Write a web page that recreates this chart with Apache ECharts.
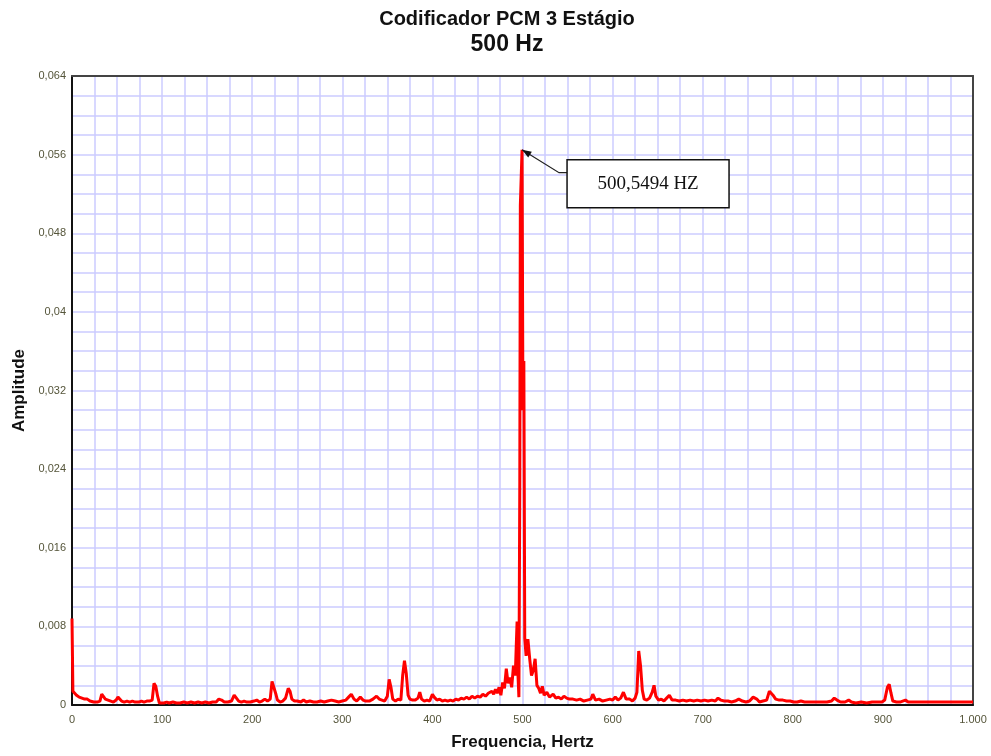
<!DOCTYPE html>
<html>
<head>
<meta charset="utf-8">
<script src="https://cdn.jsdelivr.net/npm/echarts@6/dist/echarts.min.js"></script>
<style>
    html, body { margin: 0; padding: 0; background: #fff; }
    #spectrum { width: 991px; height: 756px; }
</style>
</head>
<body>
<div id="spectrum"></div>
<script>
    // spectrum: frequency (Hz) and amplitude
    const freqs = [
        0, 1, 3, 5, 8, 11, 14, 17, 20, 24, 28, 31, 33, 35, 37, 40, 43, 46, 49, 51, 53, 55, 58, 61, 64, 67, 70, 74, 77, 80,
        83, 86, 89, 91, 93, 95, 97, 99, 102, 105, 108, 112, 116, 120, 124, 128, 132, 136, 140, 144, 148, 152, 156, 160,
        163, 166, 169, 173, 177, 180, 182, 185, 188, 191, 194, 198, 202, 205, 208, 211, 214, 217, 220, 222, 224, 226,
        228, 231, 234, 237, 240, 242, 244, 247, 250, 254, 257, 260, 264, 268, 272, 276, 280, 284, 288, 292, 296, 300,
        304, 307, 310, 313, 316, 320, 323, 326, 330, 334, 338, 341, 344, 347, 350, 352, 354, 356, 359, 362, 365, 367,
        369, 371, 373, 375, 378, 381, 384, 386, 388, 391, 394, 397, 400, 402, 405, 408, 411, 414, 417, 420, 423, 426,
        429, 432, 435, 438, 441, 444, 447, 450, 453, 456, 459, 462, 464, 466, 468, 470, 472, 474, 476, 478, 480, 482,
        484, 486, 488, 490, 492, 493, 494, 495, 496, 497, 497.6, 499.5, 500.5, 501.5, 502.5, 504, 506, 508, 510, 512,
        514, 516, 518, 520, 522, 524, 527, 530, 534, 537, 540, 543, 546, 549, 552, 556, 560, 564, 568, 572, 576, 578,
        581, 585, 589, 593, 597, 600, 603, 606, 609, 612, 615, 619, 622, 625, 627, 629, 631, 633, 635, 638, 641, 644,
        646, 648, 651, 654, 657, 660, 663, 666, 670, 674, 678, 682, 686, 690, 694, 698, 702, 706, 710, 714, 717, 720,
        724, 728, 732, 736, 740, 744, 748, 752, 756, 758, 760, 763, 767, 771, 774, 776, 778, 781, 785, 789, 793, 797,
        801, 805, 809, 813, 818, 823, 828, 833, 838, 843, 846, 849, 853, 858, 862, 865, 870, 876, 882, 888, 894, 899,
        902, 905, 907, 909, 911, 915, 919, 922, 925, 928, 935, 945, 955, 965, 975, 985, 995, 1000
    ];
    const amps = [
        0.0088, 0.0014, 0.0015, 0.0010, 0.0008, 0.0007, 0.0006, 0.0006, 0.0004, 0.0003, 0.0003, 0.0004, 0.0011, 0.0010,
        0.0006, 0.0005, 0.0004, 0.0003, 0.0005, 0.0008, 0.0006, 0.0004, 0.0003, 0.0004, 0.0003, 0.0004, 0.0003, 0.0003,
        0.0004, 0.0003, 0.0004, 0.0004, 0.0005, 0.0022, 0.0019, 0.0009, 0.0002, 0.0004, 0.0002, 0.0003, 0.0002, 0.0003,
        0.0002, 0.0002, 0.0003, 0.0002, 0.0003, 0.0002, 0.0003, 0.0002, 0.0003, 0.0002, 0.0003, 0.0003, 0.0006, 0.0005,
        0.0003, 0.0003, 0.0004, 0.0010, 0.0008, 0.0004, 0.0003, 0.0004, 0.0003, 0.0003, 0.0004, 0.0005, 0.0003, 0.0004,
        0.0006, 0.0004, 0.0006, 0.0024, 0.0025, 0.0012, 0.0005, 0.0003, 0.0004, 0.0007, 0.0017, 0.0014, 0.0006, 0.0004,
        0.0004, 0.0003, 0.0005, 0.0003, 0.0004, 0.0003, 0.0003, 0.0004, 0.0003, 0.0004, 0.0005, 0.0004, 0.0003, 0.0004,
        0.0005, 0.0008, 0.0011, 0.0006, 0.0004, 0.0008, 0.0005, 0.0004, 0.0004, 0.0006, 0.0009, 0.0006, 0.0005, 0.0004,
        0.0009, 0.0026, 0.0018, 0.0006, 0.0004, 0.0006, 0.0005, 0.0030, 0.0045, 0.0032, 0.0010, 0.0006, 0.0005, 0.0005,
        0.0007, 0.0013, 0.0006, 0.0004, 0.0005, 0.0004, 0.0011, 0.0008, 0.0005, 0.0006, 0.0004, 0.0005, 0.0004, 0.0005,
        0.0004, 0.0006, 0.0005, 0.0007, 0.0006, 0.0008, 0.0006, 0.0009, 0.0007, 0.0009, 0.0008, 0.0011, 0.0009, 0.0012,
        0.0010, 0.0014, 0.0011, 0.0016, 0.0012, 0.0018, 0.0010, 0.0023, 0.0017, 0.0037, 0.0022, 0.0028, 0.0018, 0.0040,
        0.0030, 0.0058, 0.0085, 0.0030, 0.0008, 0.0228, 0.0508, 0.0565, 0.0300, 0.0350, 0.0068, 0.0050, 0.0067, 0.0047,
        0.0030, 0.0035, 0.0047, 0.0020, 0.0017, 0.0012, 0.0019, 0.0010, 0.0013, 0.0008, 0.0011, 0.0007, 0.0008, 0.0006,
        0.0009, 0.0007, 0.0006, 0.0006, 0.0005, 0.0006, 0.0004, 0.0005, 0.0006, 0.0011, 0.0005, 0.0006, 0.0004, 0.0005,
        0.0006, 0.0005, 0.0008, 0.0005, 0.0007, 0.0013, 0.0006, 0.0006, 0.0004, 0.0007, 0.0013, 0.0055, 0.0040, 0.0015,
        0.0006, 0.0005, 0.0007, 0.0013, 0.0020, 0.0009, 0.0005, 0.0006, 0.0004, 0.0007, 0.0010, 0.0005, 0.0005, 0.0004,
        0.0005, 0.0004, 0.0005, 0.0004, 0.0005, 0.0004, 0.0005, 0.0004, 0.0005, 0.0004, 0.0007, 0.0005, 0.0004, 0.0004,
        0.0003, 0.0004, 0.0006, 0.0004, 0.0003, 0.0004, 0.0008, 0.0010, 0.0006, 0.0003, 0.0004, 0.0005, 0.0014, 0.0016,
        0.0010, 0.0006, 0.0005, 0.0005, 0.0004, 0.0004, 0.0003, 0.0003, 0.0004, 0.0003, 0.0003, 0.0003, 0.0003, 0.0003,
        0.0003, 0.0004, 0.0007, 0.0005, 0.0003, 0.0003, 0.0005, 0.0003, 0.0002, 0.0003, 0.0002, 0.0003, 0.0003, 0.0003,
        0.0005, 0.0018, 0.0021, 0.0012, 0.0004, 0.0003, 0.0003, 0.0004, 0.0005, 0.0003, 0.0003, 0.0003, 0.0003, 0.0003,
        0.0003, 0.0003, 0.0003, 0.0003
    ];
    const peakFreq = 499.5;
    const peakAmp = 0.0565;
    const peakLabel = '500,5494 HZ';
    const titleLines = ['Codificador PCM 3 Estágio', '500 Hz'];

    const tickColor = '#55553a';
    const gridColor = '#ccccff';

    // plain frame axes for the top and right edges of the plot
    function frameAxis(pos, min, max) {
        return {
            type: 'value', position: pos, min: min, max: max,
            axisLine: { show: true, onZero: false, lineStyle: { color: '#444', width: 2 } },
            axisTick: { show: false }, axisLabel: { show: false }, splitLine: { show: false }
        };
    }

    let chart = echarts.init(document.getElementById('spectrum'));
    let option = {
        animation: false,
        grid: {
            left: 72,
            right: 18,
            top: 76,
            bottom: 50
        },
        xAxis: [{
            type: 'value',
            min: 0,
            max: 1000,
            interval: 100,
            name: 'Frequencia, Hertz',
            nameLocation: 'middle',
            nameGap: 29,
            nameTextStyle: { fontFamily: 'Liberation Sans', fontWeight: 'bold', fontSize: 17, color: '#111' },
            axisLine: { onZero: false, lineStyle: { color: '#111', width: 2 } },
            axisTick: { show: false },
            axisLabel: {
                margin: 9,
                fontFamily: 'Liberation Sans',
                fontSize: 11,
                color: tickColor,
                formatter: function (v) { return v === 1000 ? '1.000' : String(v); }
            },
            splitLine: { lineStyle: { color: gridColor, width: 1.5 } },
            minorTick: { show: false, splitNumber: 4 },
            minorSplitLine: { show: true, lineStyle: { color: gridColor, width: 1.5 } }
        }, frameAxis('top', 0, 1000)],
        yAxis: [{
            type: 'value',
            min: 0,
            max: 0.064,
            interval: 0.008,
            name: 'Amplitude',
            nameLocation: 'middle',
            nameGap: 42,
            nameTextStyle: { fontFamily: 'Liberation Sans', fontWeight: 'bold', fontSize: 17, color: '#111' },
            axisLine: { show: true, onZero: false, lineStyle: { color: '#111', width: 2 } },
            axisTick: { show: false },
            axisLabel: {
                margin: 6,
                fontFamily: 'Liberation Sans',
                fontSize: 11,
                color: tickColor,
                formatter: function (v) {
                    return v === 0 ? '0' : String(Number(v.toFixed(3))).replace('.', ',');
                }
            },
            splitLine: { lineStyle: { color: gridColor, width: 1.5 } },
            minorTick: { show: false, splitNumber: 4 },
            minorSplitLine: { show: true, lineStyle: { color: gridColor, width: 1.5 } }
        }, frameAxis('right', 0, 0.064)],
        series: [
            {
                name: 'Amplitude',
                type: 'line',
                showSymbol: false,
                lineStyle: { color: '#ff0000', width: 3 },
                data: freqs.map(function (f, i) { return [f, amps[i]]; })
            }
        ]
    };
    chart.setOption(option);

    // titles and the annotation box with arrow pointing to the peak
    let p = chart.convertToPixel({ xAxisIndex: 0, yAxisIndex: 0 }, [peakFreq, peakAmp]);
    let bx = p[0] + 45, by = p[1] + 10, bw = 162, bh = 48;
    let tail = [bx - 8, p[1] + 23];
    let ang = Math.atan2(p[1] - tail[1], p[0] - tail[0]);
    let head = [
        p,
        [p[0] - 10 * Math.cos(ang - 0.35), p[1] - 10 * Math.sin(ang - 0.35)],
        [p[0] - 10 * Math.cos(ang + 0.35), p[1] - 10 * Math.sin(ang + 0.35)]
    ];
    chart.setOption({
        graphic: [
            {
                type: 'text', x: 507, y: 19,
                style: { text: titleLines[0], font: 'bold 20px "Liberation Sans"', fill: '#111', align: 'center', verticalAlign: 'middle' }
            },
            {
                type: 'text', x: 507, y: 45,
                style: { text: titleLines[1], font: 'bold 23px "Liberation Sans"', fill: '#111', align: 'center', verticalAlign: 'middle' }
            },
            { type: 'polyline', shape: { points: [[bx, p[1] + 23], tail, p] }, style: { stroke: '#222', lineWidth: 1.2, fill: null }, z: 100 },
            { type: 'polygon', shape: { points: head }, style: { fill: '#111' }, z: 100 },
            { type: 'rect', shape: { x: bx, y: by, width: bw, height: bh }, style: { fill: '#fff', stroke: '#111', lineWidth: 1.5 }, z: 100 },
            {
                type: 'text',
                x: bx + bw / 2,
                y: by + bh / 2,
                style: { text: peakLabel, font: '19px "Liberation Serif"', fill: '#111', align: 'center', verticalAlign: 'middle' },
                z: 101
            }
        ]
    });
    window.addEventListener('resize', function () {
        chart.resize();
    });
</script>
</body>
</html>
